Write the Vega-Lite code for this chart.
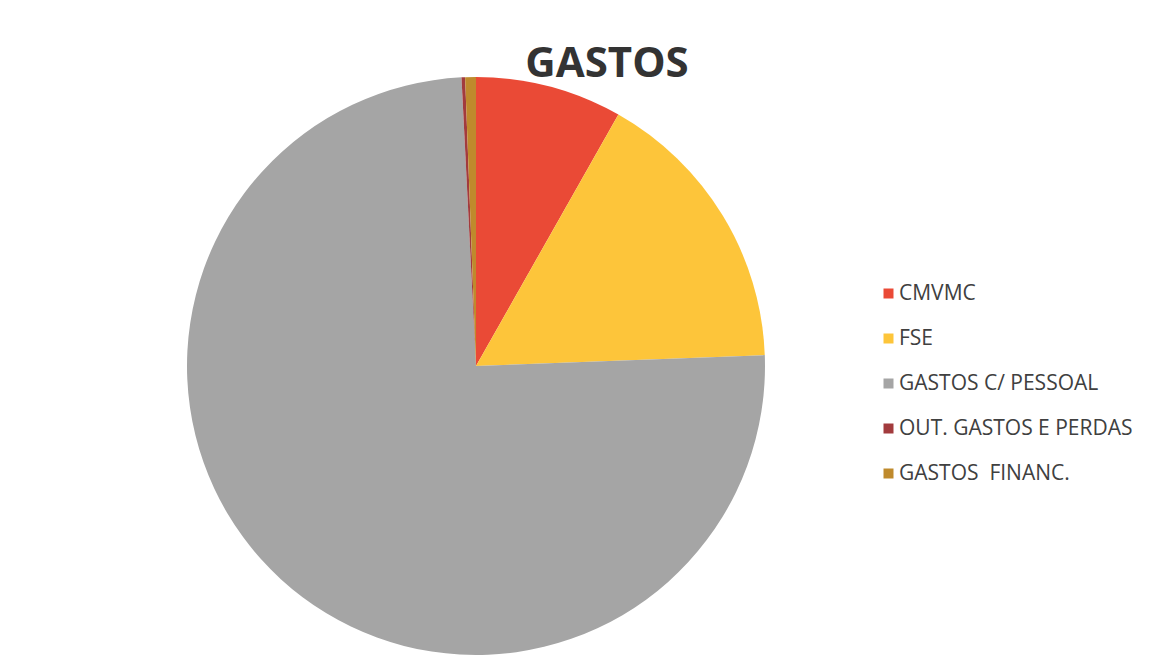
{
  "$schema": "https://vega.github.io/schema/vega-lite/v6.json",
  "autosize": {"type": "none"},
  "width": 952,
  "height": 580,
  "padding": {"left": 0, "top": 76, "right": 197, "bottom": 6},
  "background": "white",
  "view": {"stroke": null},
  "title": {
    "text": "GASTOS",
    "font": "Open Sans",
    "fontSize": 42,
    "fontWeight": "bold",
    "color": "#333333",
    "anchor": "middle",
    "dx": 131,
    "offset": -10
  },
  "data": {
    "values": [
      {"categoria": "CMVMC", "ordem": 1, "valor": 8.2},
      {"categoria": "FSE", "ordem": 2, "valor": 16.2},
      {"categoria": "GASTOS C/ PESSOAL", "ordem": 3, "valor": 74.8},
      {"categoria": "OUT. GASTOS E PERDAS", "ordem": 4, "valor": 0.2},
      {"categoria": "GASTOS \u00a0FINANC.", "ordem": 5, "valor": 0.6}
    ]
  },
  "mark": {"type": "arc", "outerRadius": 289, "stroke": null},
  "encoding": {
    "theta": {"field": "valor", "type": "quantitative", "stack": true},
    "order": {"field": "ordem", "type": "quantitative", "sort": "ascending"},
    "color": {
      "field": "categoria",
      "type": "nominal",
      "sort": null,
      "scale": {
        "domain": ["CMVMC", "FSE", "GASTOS C/ PESSOAL", "OUT. GASTOS E PERDAS", "GASTOS \u00a0FINANC."],
        "range": ["#EA4A36", "#FDC53A", "#A5A5A5", "#A23B3D", "#BF8A2C"]
      },
      "legend": {
        "title": null,
        "orient": "none",
        "legendX": 878,
        "legendY": 207,
        "symbolType": "square",
        "symbolSize": 100,
        "symbolStrokeWidth": 0,
        "labelFont": "Open Sans",
        "labelFontSize": 21,
        "labelColor": "#404040",
        "labelOffset": 0,
        "rowPadding": 23,
        "labelLimit": 400
      }
    }
  }
}
